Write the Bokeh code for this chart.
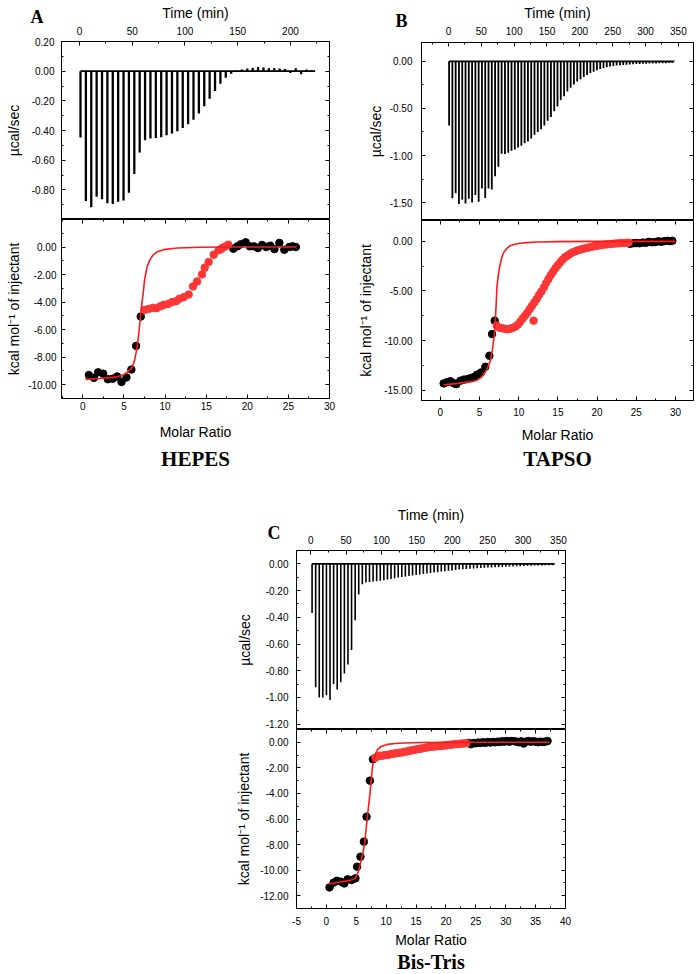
import numpy as np
from bokeh.plotting import figure
from bokeh.models import (LinearAxis, FixedTicker, PrintfTickFormatter, Range1d,
                          Label, Spacer, CustomJSTickFormatter, ColumnDataSource,
                          Title, GridBox)
from bokeh.layouts import column, row
from bokeh.embed import file_html
from bokeh.resources import INLINE

SANS = "Liberation Sans"
SERIF = "Liberation Serif"
RED_PTS = "#ff3636"
RED_FIT = "#ff1a1a"

# ======================= DATA =======================
# ---------- Panel A : HEPES ----------
a_first_inj_min = 1.0
a_inj_interval_min = 5.1
a_peaks = [-0.447, -0.875, -0.917, -0.846, -0.864, -0.890, -0.895, -0.880, -0.872, -0.820,
           -0.694, -0.548, -0.465, -0.454, -0.450, -0.445, -0.432, -0.420, -0.405, -0.383,
           -0.358, -0.327, -0.286, -0.237, -0.186, -0.134, -0.085, -0.045, -0.018, 0.005,
           0.012, 0.018, 0.022, 0.028, 0.025, 0.020, 0.022, 0.018, 0.015, -0.012,
           0.020, -0.020, 0.012, 0.008]
a_ratio_black = [0.73, 1.34, 1.86, 2.47, 3.04, 3.64, 4.17, 4.70, 5.30, 5.90, 6.48, 7.04,
                 18.3, 18.8, 19.2, 19.8, 20.3, 20.8, 21.3, 21.8, 22.3, 22.8, 23.3, 23.9,
                 24.5, 25.1, 25.5, 25.9]
a_heat_black = [-9.30, -9.50, -9.10, -9.20, -9.60, -9.56, -9.40, -9.80, -9.47, -8.90, -7.18, -5.05,
                -0.12, 0.05, 0.20, 0.34, 0.05, 0.05, -0.07, 0.15, 0.00, 0.10, -0.15, 0.30,
                -0.20, 0.00, 0.05, 0.00]
a_ratio_red = [7.53, 8.02, 8.50, 8.95, 9.43, 9.84, 10.36, 10.85, 11.34, 11.74, 12.27, 12.87,
               13.40, 13.89, 14.49, 14.82, 15.30, 15.91, 16.50, 16.80, 17.00, 17.35, 17.70]
a_heat_red = [-4.56, -4.49, -4.42, -4.44, -4.30, -4.20, -4.13, -4.00, -3.93, -3.76, -3.64, -3.45,
              -2.86, -2.50, -1.99, -1.50, -1.09, -0.56, -0.24, -0.15, -0.05, 0.05, 0.17]
a_fit_ratio = [0.3, 2.0, 4.0, 5.0, 5.5, 6.0, 6.3, 6.6, 6.8, 7.0, 7.15, 7.33, 7.5, 7.8, 8.1,
               8.5, 9.0, 9.8, 11.5, 14.3, 18.0, 22.0, 26.0]
a_fit_heat = [-9.61, -9.55, -9.45, -9.27, -9.05, -8.74, -8.20, -7.28, -6.30, -5.10, -4.20, -3.40,
              -2.40, -1.46, -1.00, -0.60, -0.36, -0.19, -0.07, -0.02, 0.0, 0.0, 0.0]

# ---------- Panel B : TAPSO ----------
b_first_inj_min = 1.0
b_inj_interval_min = 5.0
b_peaks = [-0.68, -1.455, -1.40, -1.515, -1.47, -1.51, -1.46, -1.50, -1.42, -1.49,
           -1.35, -1.45, -1.35, -1.36, -1.22, -1.12, -0.98, -0.985, -0.97, -0.95,
           -0.935, -0.915, -0.895, -0.87, -0.85, -0.82, -0.78, -0.75, -0.72, -0.68,
           -0.63, -0.59, -0.53, -0.48, -0.41, -0.37, -0.32, -0.28, -0.245, -0.215,
           -0.19, -0.165, -0.145, -0.125, -0.11, -0.095, -0.082, -0.072, -0.063, -0.056,
           -0.050, -0.045, -0.041, -0.038, -0.035, -0.033, -0.031, -0.029, -0.027, -0.026,
           -0.025, -0.024, -0.023, -0.022, -0.021, -0.020, -0.019, -0.018, -0.017]
b_ratio_black = [0.43, 0.85, 1.28, 1.70, 2.04, 2.55, 2.98, 3.40, 3.83, 4.25, 4.68, 5.19, 5.74,
                 6.26, 6.60, 6.94,
                 24.2, 24.6, 25.0, 25.4, 25.8, 26.2, 26.6, 27.0, 27.4, 27.8, 28.2, 28.6,
                 29.0, 29.3, 29.6]
b_heat_black = [-14.33, -14.20, -14.10, -14.30, -14.40, -14.06, -13.95, -13.90, -13.80, -13.70,
                -13.45, -13.22, -12.65, -11.54, -9.35, -8.00,
                -0.25, -0.20, -0.18, -0.20, -0.12, -0.15, -0.05, -0.10, -0.08, 0.00, -0.05, 0.02,
                0.05, 0.02, 0.05]
b_ratio_red = [7.2, 7.5, 7.8, 8.1, 8.4, 8.7, 9.0, 9.3, 9.6, 9.9, 10.2, 10.5, 10.8, 11.1, 11.4,
               11.7, 11.9, 12.0, 12.3, 12.6, 12.9, 13.2, 13.5, 13.8, 14.1, 14.4, 14.7, 15.0,
               15.3, 15.6, 15.9, 16.2, 16.5, 16.8, 17.1, 17.4, 17.7, 18.0, 18.4, 18.8, 19.2,
               19.6, 20.0, 20.4, 20.8, 21.2, 21.6, 22.0, 22.4, 22.8, 23.2, 23.6, 24.0]
b_heat_red = [-8.50, -8.70, -8.75, -8.80, -8.85, -8.85, -8.80, -8.70, -8.60, -8.40, -8.10, -7.80,
              -7.50, -7.20, -6.85, -6.50, -8.00, -6.15, -5.80, -5.40, -5.05, -4.65, -4.20, -3.80,
              -3.40, -3.05, -2.70, -2.40, -2.10, -1.85, -1.60, -1.45, -1.30, -1.15, -1.05, -0.95,
              -0.87, -0.80, -0.72, -0.64, -0.57, -0.50, -0.45, -0.40, -0.35, -0.31, -0.28, -0.25,
              -0.22, -0.20, -0.18, -0.16, -0.14]
b_fit_ratio = [0.4, 2.0, 4.0, 4.7, 5.2, 5.74, 6.1, 6.4, 6.65, 6.9, 7.05, 7.23, 7.4, 7.6, 7.85,
               8.1, 8.5, 8.9, 9.5, 10.2, 11.0, 12.3, 15.0, 20.0, 25.0, 30.0]
b_fit_heat = [-14.46, -14.35, -14.15, -14.0, -13.75, -13.2, -12.6, -12.0, -10.9, -9.35, -7.6,
              -4.6, -3.4, -2.45, -1.6, -1.1, -0.7, -0.44, -0.3, -0.2, -0.13, -0.07, -0.03,
              0.0, 0.0, 0.0]

# ---------- Panel C : Bis-Tris ----------
c_first_inj_min = 2.0
c_inj_interval_min = 5.07
c_peaks = [-0.367, -0.923, -1.00, -1.00, -0.983, -1.02, -0.90, -0.94, -0.886, -0.82,
           -0.754, -0.645, -0.423, -0.23, -0.152, -0.14, -0.135, -0.132, -0.13, -0.127,
           -0.122, -0.118, -0.113, -0.108, -0.103, -0.099, -0.095, -0.091, -0.087, -0.083,
           -0.079, -0.076, -0.072, -0.069, -0.065, -0.062, -0.058, -0.055, -0.052, -0.049,
           -0.046, -0.043, -0.041, -0.039, -0.037, -0.035, -0.033, -0.031, -0.030, -0.028,
           -0.027, -0.025, -0.024, -0.023, -0.022, -0.020, -0.019, -0.018, -0.017, -0.016,
           -0.015, -0.014, -0.013, -0.012, -0.012, -0.011, -0.010, -0.010]
c_ratio_black = [0.52, 1.20, 1.76, 2.44, 3.00, 3.56, 4.18, 4.86, 5.14, 5.70, 6.27, 6.72, 7.28,
                 7.79,
                 23.8, 24.2, 24.6, 25.0, 25.4, 25.8, 26.2, 26.6, 27.0, 27.4, 27.8, 28.2, 28.6,
                 29.0, 29.4, 29.8, 30.2, 30.6, 31.0, 31.4, 31.8, 32.2, 32.6, 33.0, 33.4, 33.8,
                 34.2, 34.6, 35.0, 35.4, 35.8, 36.2, 36.6, 37.0]
c_heat_black = [-11.35, -10.98, -10.83, -10.90, -11.04, -10.72, -10.77, -10.64, -9.73, -8.95,
                -7.77, -5.82, -3.00, -1.33,
                -0.05, -0.15, -0.05, -0.08, -0.02, -0.05, 0.00, -0.04, 0.02, -0.02, 0.03, 0.00,
                0.05, 0.02, 0.08, 0.05, 0.10, 0.05, 0.10, 0.08, 0.05, 0.00, 0.08, -0.10, 0.05,
                0.10, 0.05, 0.08, 0.05, 0.00, 0.05, 0.03, 0.05, 0.10]
c_ratio_red = [8.2, 8.6, 9.0, 9.4, 9.8, 10.2, 10.6, 11.0, 11.4, 11.8, 12.2, 12.6, 13.0, 13.4,
               13.8, 14.2, 14.6, 15.0, 15.4, 15.8, 16.2, 16.6, 17.0, 17.4, 17.8, 18.2, 18.6,
               19.0, 19.4, 19.8, 20.2, 20.6, 21.0, 21.4, 21.8, 22.2, 22.6, 23.0, 23.4]
c_heat_red = [-1.20, -1.10, -1.05, -1.05, -1.00, -1.00, -0.95, -0.90, -0.88, -0.85, -0.82, -0.80,
              -0.75, -0.72, -0.68, -0.64, -0.60, -0.56, -0.53, -0.50, -0.46, -0.42, -0.39, -0.36,
              -0.34, -0.32, -0.30, -0.29, -0.27, -0.25, -0.23, -0.20, -0.18, -0.16, -0.14, -0.12,
              -0.10, -0.09, -0.08]
c_fit_ratio = [0.35, 2.0, 4.0, 4.86, 5.3, 5.7, 6.05, 6.4, 6.8, 7.05, 7.3, 7.5, 7.68, 7.95, 8.25,
               8.6, 9.1, 10.2, 11.5, 13.0, 16.0, 20.0, 25.0, 30.0, 37.3]
c_fit_heat = [-11.09, -10.95, -10.80, -10.64, -10.20, -9.47, -8.80, -7.90, -6.08, -5.00, -3.99,
              -2.90, -2.03, -1.30, -0.86, -0.55, -0.34, -0.16, -0.09, -0.05, -0.02, 0.0, 0.0,
              0.0, 0.0]

# ---------- axes: ranges and ticks ----------
a_time_range = (-17, 237)
a_raw_range = (-1.0, 0.2)
a_ratio_range = (-2.6, 30)
a_heat_range = (-11, 2)
a_time_ticks = [0, 50, 100, 150, 200]
a_time_minor = [25, 75, 125, 175, 225]
a_raw_ticks = [0.2, 0.0, -0.2, -0.4, -0.6, -0.8]
a_raw_minor = [0.1, -0.1, -0.3, -0.5, -0.7, -0.9]
a_heat_ticks = [0, -2, -4, -6, -8, -10]
a_heat_minor = [1, -1, -3, -5, -7, -9]
a_ratio_ticks = [0, 5, 10, 15, 20, 25, 30]
a_ratio_minor = [-2.5, 2.5, 7.5, 12.5, 17.5, 22.5, 27.5]

b_time_range = (-41, 373)
b_raw_range = (-1.69, 0.2)
b_ratio_range = (-2.4, 32.3)
b_heat_range = (-16.05, 2.1)
b_time_ticks = [0, 50, 100, 150, 200, 250, 300, 350]
b_time_minor = [-25, 25, 75, 125, 175, 225, 275, 325]
b_raw_ticks = [0.0, -0.5, -1.0, -1.5]
b_raw_minor = [-0.25, -0.75, -1.25]
b_heat_ticks = [0, -5, -10, -15]
b_heat_minor = [-2.5, -7.5, -12.5]
b_ratio_ticks = [0, 5, 10, 15, 20, 25, 30]
b_ratio_minor = [2.5, 7.5, 12.5, 17.5, 22.5, 27.5]

c_time_range = (-20, 360)
c_raw_range = (-1.24, 0.1)
c_ratio_range = (-5, 40)
c_heat_range = (-13, 1)
c_time_ticks = [0, 50, 100, 150, 200, 250, 300, 350]
c_time_minor = [25, 75, 125, 175, 225, 275, 325]
c_raw_ticks = [0.0, -0.2, -0.4, -0.6, -0.8, -1.0, -1.2]
c_raw_minor = [-0.1, -0.3, -0.5, -0.7, -0.9, -1.1]
c_heat_ticks = [0, -2, -4, -6, -8, -10, -12]
c_heat_minor = [-1, -3, -5, -7, -9, -11]
c_ratio_ticks = [-5, 0, 5, 10, 15, 20, 25, 30, 35, 40]
c_ratio_minor = [-2.5, 2.5, 7.5, 12.5, 17.5, 22.5, 27.5, 32.5, 37.5]

time_label = "Time (min)"
raw_label = "µcal/sec"
heat_label = "kcal mol⁻¹ of injectant"
ratio_label = "Molar Ratio"
panel_letters = ["A", "B", "C"]
buffer_names = ["HEPES", "TAPSO", "Bis-Tris"]


# ======================= HELPERS =======================
def style_axis(ax, std=6, lstd=6):
    ax.major_tick_in = 4
    ax.major_tick_out = 0
    ax.minor_tick_in = 2
    ax.minor_tick_out = 0
    ax.axis_line_color = "black"
    ax.major_tick_line_color = "black"
    ax.minor_tick_line_color = "black"
    ax.major_label_text_font = SANS
    ax.major_label_text_font_size = "10px"
    ax.major_label_text_color = "black"
    ax.major_label_standoff = std
    ax.axis_label_text_font = SANS
    ax.axis_label_text_font_size = "14px"
    ax.axis_label_text_font_style = "normal"
    ax.axis_label_text_color = "black"
    ax.axis_label_standoff = lstd


def edge_axis(p, side, loc, ticks, minor):
    ax = LinearAxis(fixed_location=loc, ticker=FixedTicker(ticks=ticks, minor_ticks=minor),
                    formatter=CustomJSTickFormatter(code="return ''"))
    style_axis(ax)
    p.add_layout(ax, side)


def base_fig(width, height, xr, yr, xloc, bl, br, bt, bb):
    p = figure(width=width, height=height, x_range=Range1d(*xr), y_range=Range1d(*yr),
               x_axis_location=xloc, y_axis_location="left",
               output_backend="svg", toolbar_location=None,
               min_border_left=bl, min_border_right=br, min_border_top=bt, min_border_bottom=bb)
    p.grid.visible = False
    p.outline_line_color = "black"
    p.outline_line_width = 1
    p.outline_line_alpha = 1.0
    p.background_fill_color = "white"
    p.border_fill_color = "white"
    return p


def raw_panel(width, height, bl, br, bt, xr, yr, xt, xm, yt, ym, first, step, peaks, lw,
              ystd, ylstd, xstd, xlstd):
    p = base_fig(width, height, xr, yr, "above", bl, br, bt, 0)
    xa = p.xaxis[0]
    xa.ticker = FixedTicker(ticks=xt, minor_ticks=xm)
    xa.formatter = PrintfTickFormatter(format="%d")
    xa.axis_label = time_label
    style_axis(xa, xstd, xlstd)
    ya = p.yaxis[0]
    ya.ticker = FixedTicker(ticks=yt, minor_ticks=ym)
    ya.formatter = PrintfTickFormatter(format="%.2f")
    ya.axis_label = raw_label
    style_axis(ya, ystd, ylstd)
    edge_axis(p, "right", xr[1], yt, ym)

    times = first + step * np.arange(len(peaks))
    src = ColumnDataSource(dict(t=times, zero=np.zeros(len(peaks)), peak=np.array(peaks)))
    p.line(x=[times[0], times[-1] + 0.6 * step], y=[0, 0], line_color="black", line_width=1.6)
    p.segment(x0="t", y0="zero", x1="t", y1="peak", source=src,
              line_color="black", line_width=lw)
    return p


def itc_panel(width, height, bl, br, bb, xr, yr, xt, xm, yt, ym,
              bx, by, rx, ry, fx, fy, ystd, ylstd, xstd, xlstd,
              name, name_size, name_standoff):
    p = base_fig(width, height, xr, yr, "below", bl, br, 0, bb)
    xa = p.xaxis[0]
    xa.ticker = FixedTicker(ticks=xt, minor_ticks=xm)
    xa.formatter = PrintfTickFormatter(format="%d")
    xa.axis_label = ratio_label
    style_axis(xa, xstd, xlstd)
    ya = p.yaxis[0]
    ya.ticker = FixedTicker(ticks=yt, minor_ticks=ym)
    ya.formatter = PrintfTickFormatter(format="%.2f")
    ya.axis_label = heat_label
    style_axis(ya, ystd, ylstd)
    edge_axis(p, "right", xr[1], yt, ym)
    edge_axis(p, "above", yr[1], xt, xm)

    p.scatter(x=bx, y=by, size=7.5, marker="circle", fill_color="black", line_color="black")
    p.scatter(x=rx, y=ry, size=7.5, marker="circle", fill_color=RED_PTS, line_color=RED_PTS)
    p.line(x=fx, y=fy, line_color=RED_FIT, line_width=1.6)

    p.add_layout(Title(text=name, align="center", vertical_align="top",
                       text_font=SERIF, text_font_style="bold", text_font_size=name_size,
                       text_color="black", standoff=name_standoff), "below")
    return p


def letter_fig(width, height, x, y, text):
    p = figure(width=width, height=height, x_range=Range1d(0, width), y_range=Range1d(0, height),
               x_axis_location=None, y_axis_location=None, output_backend="svg",
               toolbar_location=None, min_border_left=0, min_border_right=0,
               min_border_top=0, min_border_bottom=0, align="start")
    p.grid.visible = False
    p.xgrid.grid_line_color = None
    p.ygrid.grid_line_color = None
    p.outline_line_color = None
    p.background_fill_color = None
    p.border_fill_color = None
    p.add_layout(Label(x=x, y=y, x_units="screen", y_units="screen", text=text,
                       text_font=SERIF, text_font_style="bold", text_font_size="18px",
                       text_color="black", text_align="left", text_baseline="alphabetic"))
    return p


# ======================= PANELS =======================
# Panel A
pa_top = raw_panel(339, 219, 61, 10, 41, a_time_range, a_raw_range,
                   a_time_ticks, a_time_minor, a_raw_ticks, a_raw_minor,
                   a_first_inj_min, a_inj_interval_min, a_peaks, 2.3,
                   7, 7, 7, 3)
pa_bot = itc_panel(339, 259, 61, 10, 80, a_ratio_range, a_heat_range,
                   a_ratio_ticks, a_ratio_minor, a_heat_ticks, a_heat_minor,
                   a_ratio_black, a_heat_black, a_ratio_red, a_heat_red,
                   a_fit_ratio, a_fit_heat, 5, 3, 3, 11,
                   buffer_names[0], "21px", 8)

# Panel B
pb_top = raw_panel(359, 220, 82, 5, 42, b_time_range, b_raw_range,
                   b_time_ticks, b_time_minor, b_raw_ticks, b_raw_minor,
                   b_first_inj_min, b_inj_interval_min, b_peaks, 1.8,
                   9, 3, 8, 3)
pb_bot = itc_panel(359, 258, 82, 5, 78, b_ratio_range, b_heat_range,
                   b_ratio_ticks, b_ratio_minor, b_heat_ticks, b_heat_minor,
                   b_ratio_black, b_heat_black, b_ratio_red, b_heat_red,
                   b_fit_ratio, b_fit_heat, 9, 7, 7, 8,
                   buffer_names[1], "21px", 2)

# Panel C
pc_top = raw_panel(347, 251, 68, 10, 72, c_time_range, c_raw_range,
                   c_time_ticks, c_time_minor, c_raw_ticks, c_raw_minor,
                   c_first_inj_min, c_inj_interval_min, c_peaks, 1.6,
                   8, 10, 7, 10)
pc_bot = itc_panel(347, 245, 68, 10, 65, c_ratio_range, c_heat_range,
                   c_ratio_ticks, c_ratio_minor, c_heat_ticks, c_heat_minor,
                   c_ratio_black, c_heat_black, c_ratio_red, c_heat_red,
                   c_fit_ratio, c_fit_heat, 8, 5, 8, 4,
                   buffer_names[2], "20px", 0)

col_a = column(pa_top, pa_bot, spacing=0)
col_b = column(pb_top, pb_bot, spacing=0)
col_c = column(pc_top, pc_bot, spacing=0)
row_c = row(Spacer(width=228, height=496), col_c, spacing=0)

lf_a = letter_fig(60, 30, 30, 14, panel_letters[0])
lf_b = letter_fig(80, 35, 56, 15, panel_letters[1])
lf_c = letter_fig(300, 70, 267, 16, panel_letters[2])

layout = GridBox(children=[(col_a, 0, 0), (col_b, 0, 1), (row_c, 1, 0, 1, 2),
                           (lf_a, 0, 0), (lf_b, 0, 1), (lf_c, 1, 0, 1, 2)],
                 spacing=0)

open("out.html", "w").write(file_html(layout, INLINE))
